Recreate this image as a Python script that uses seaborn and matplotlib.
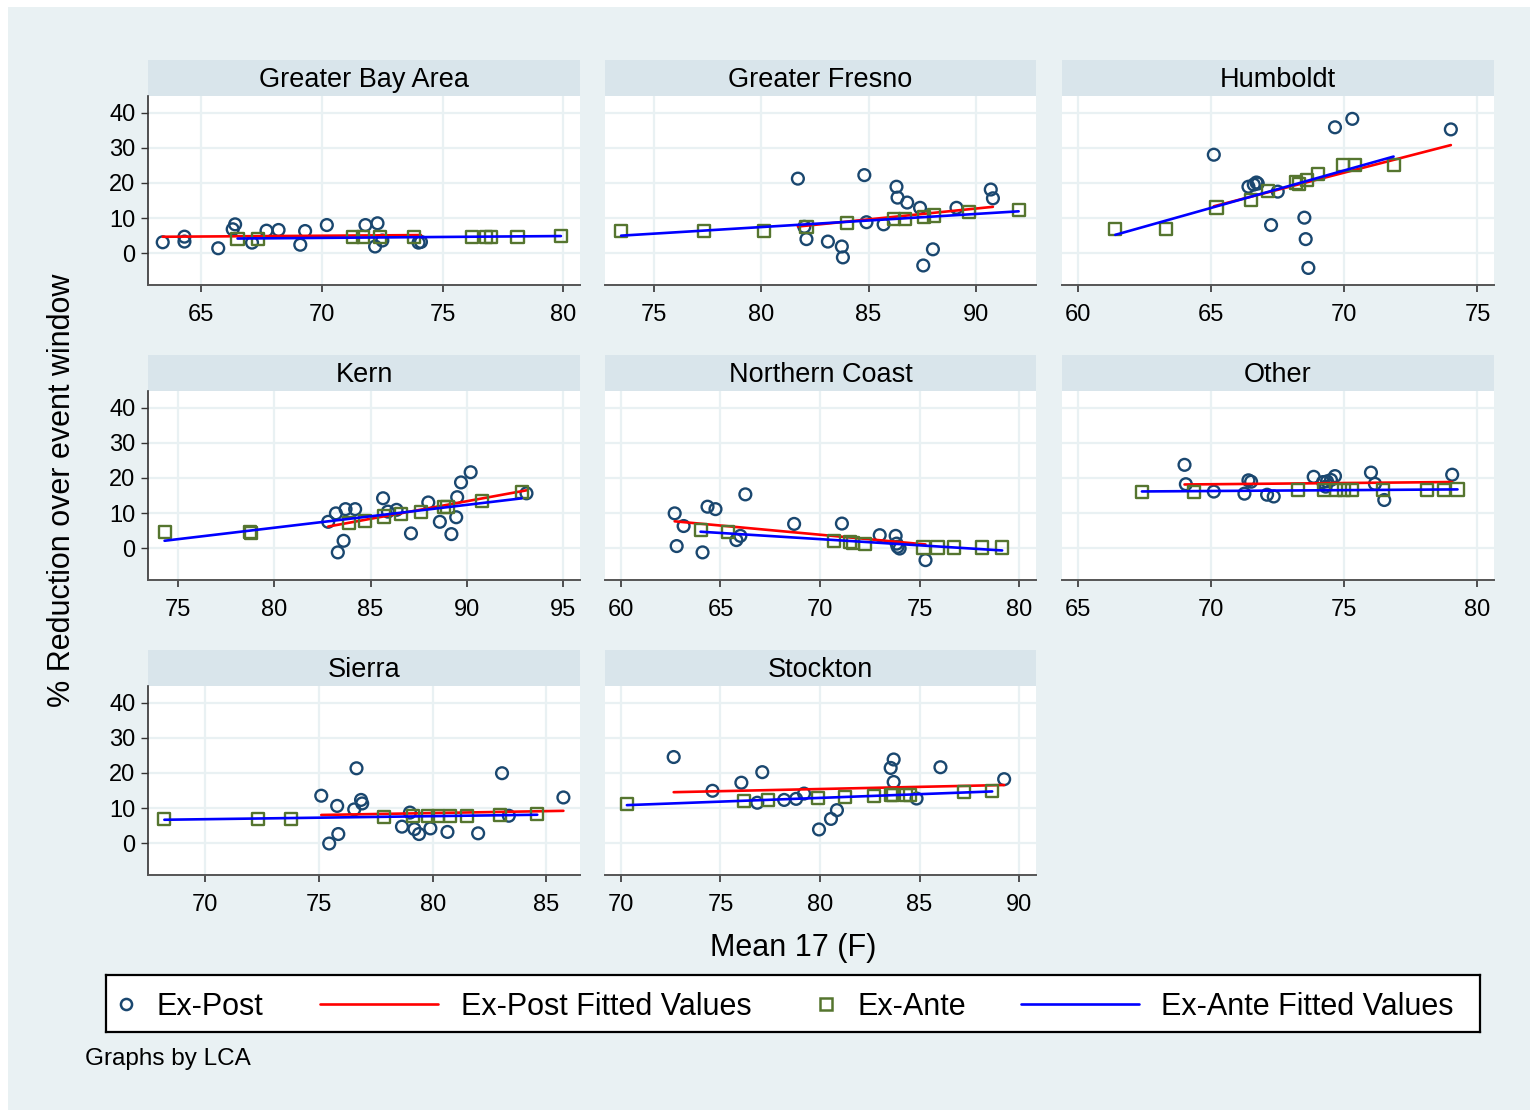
import numpy as np
import pandas as pd
import matplotlib
matplotlib.use("Agg")
import matplotlib.pyplot as plt
from matplotlib.patches import Rectangle
from matplotlib.ticker import MultipleLocator
import seaborn as sns

sns.set_theme(style="white")
plt.rcParams["font.family"] = ["Liberation Sans", "DejaVu Sans"]
plt.rcParams["text.color"] = "black"
plt.rcParams["xtick.color"] = "black"
plt.rcParams["ytick.color"] = "black"
plt.rcParams["axes.labelcolor"] = "black"

# ---------------------------------------------------------------- data
regions = ["Greater Bay Area", "Greater Fresno", "Humboldt", "Kern",
           "Northern Coast", "Other", "Sierra", "Stockton"]

bay_post_x = [63.4, 64.3, 64.3, 65.7, 66.3, 66.4, 67.1, 67.7, 68.2, 69.1, 69.3, 70.2, 71.8, 72.2, 72.3, 72.5, 74.0, 74.1]
bay_post_y = [3.1, 4.7, 3.3, 1.4, 6.8, 8.2, 3.0, 6.4, 6.6, 2.4, 6.3, 8.0, 8.0, 1.9, 8.5, 3.6, 3.0, 3.2]
bay_ante_x = [66.5, 67.35, 71.3, 71.7, 72.4, 73.8, 76.2, 76.8, 77.0, 78.1, 79.9]
bay_ante_y = [4.1, 4.1, 4.5, 4.5, 4.5, 4.7, 4.7, 4.7, 4.7, 4.7, 4.8]

fresno_post_x = [81.7, 82.0, 82.1, 83.1, 83.75, 83.8, 84.8, 84.9, 85.7, 86.3, 86.35, 86.8, 87.4, 87.55, 88.0, 89.1, 90.7, 90.8]
fresno_post_y = [21.2, 7.5, 4.0, 3.3, 1.9, -1.2, 22.2, 8.8, 8.2, 18.9, 15.8, 14.4, 12.9, -3.5, 1.1, 12.9, 18.1, 15.6]
fresno_ante_x = [73.45, 77.3, 80.1, 82.1, 84.0, 86.2, 86.7, 87.6, 88.05, 89.7, 92.0]
fresno_ante_y = [6.3, 6.3, 6.3, 7.5, 8.5, 9.7, 9.7, 10.4, 10.7, 11.6, 12.3]

humboldt_post_x = [65.1, 66.4, 66.6, 66.7, 66.75, 67.25, 67.5, 68.5, 68.55, 68.65, 69.65, 70.3, 74.0]
humboldt_post_y = [28.0, 18.9, 19.5, 20.1, 19.8, 8.0, 17.5, 10.1, 4.0, -4.2, 35.8, 38.2, 35.2]
humboldt_ante_x = [61.4, 63.3, 65.2, 66.5, 67.15, 68.2, 68.3, 68.6, 69.0, 69.95, 70.4, 71.85]
humboldt_ante_y = [6.9, 6.9, 13.0, 15.1, 17.6, 20.1, 19.8, 20.8, 22.4, 25.2, 25.2, 25.2]

kern_post_x = [82.8, 83.2, 83.3, 83.6, 83.7, 84.2, 85.65, 85.9, 86.35, 87.1, 88.0, 88.6, 89.2, 89.45, 89.5, 89.7, 90.2, 93.1]
kern_post_y = [7.5, 9.9, -1.2, 2.1, 11.1, 11.1, 14.2, 10.4, 10.9, 4.2, 13.0, 7.5, 4.0, 8.8, 14.5, 18.7, 21.6, 15.6]
kern_ante_x = [74.3, 78.75, 78.8, 83.9, 84.7, 85.7, 86.6, 87.6, 88.8, 89.0, 90.8, 92.85]
kern_ante_y = [4.5, 4.5, 4.3, 7.2, 7.7, 9.0, 9.6, 10.4, 11.6, 11.8, 13.4, 16.0]

coast_post_x = [62.7, 62.8, 63.15, 64.1, 64.35, 64.75, 65.8, 66.0, 66.25, 68.7, 71.1, 73.0, 73.8, 73.85, 73.9, 74.0, 75.3]
coast_post_y = [9.9, 0.6, 6.3, -1.2, 11.8, 11.1, 2.3, 3.5, 15.3, 6.9, 7.0, 3.7, 3.5, 1.3, 0.4, -0.1, -3.4]
coast_ante_x = [64.0, 65.4, 70.7, 71.5, 71.65, 72.25, 75.2, 75.9, 76.75, 78.15, 79.15]
coast_ante_y = [5.1, 4.7, 2.1, 1.8, 1.5, 1.3, 0.2, 0.2, 0.2, 0.2, 0.2]

other_post_x = [69.0, 69.05, 70.1, 71.25, 71.4, 71.5, 72.1, 72.35, 73.85, 74.2, 74.3, 74.35, 74.5, 74.65, 76.0, 76.15, 76.5, 79.05]
other_post_y = [23.7, 18.2, 16.1, 15.5, 19.3, 18.9, 15.2, 14.7, 20.3, 18.8, 17.5, 19.0, 19.4, 20.5, 21.5, 18.3, 13.7, 20.9]
other_ante_x = [67.4, 69.35, 73.25, 74.25, 74.7, 75.0, 75.3, 76.45, 78.1, 78.75, 79.25]
other_ante_y = [16.1, 16.1, 16.6, 16.6, 16.5, 16.5, 16.5, 16.6, 16.6, 16.6, 16.7]

sierra_post_x = [75.1, 75.45, 75.8, 75.85, 76.55, 76.65, 76.85, 76.9, 78.65, 79.0, 79.2, 79.4, 79.9, 80.65, 82.0, 83.05, 83.35, 85.75]
sierra_post_y = [13.5, -0.1, 10.6, 2.6, 9.6, 21.3, 12.3, 11.3, 4.7, 8.7, 4.0, 2.6, 4.2, 3.2, 2.8, 19.9, 7.8, 13.0]
sierra_ante_x = [68.2, 72.3, 73.75, 77.85, 79.15, 79.8, 80.25, 80.75, 81.5, 82.95, 84.6]
sierra_ante_y = [6.9, 6.9, 6.9, 7.5, 7.7, 7.7, 7.7, 7.7, 7.7, 8.0, 8.2]

stockton_post_x = [72.65, 74.6, 76.05, 76.85, 77.1, 78.2, 78.8, 79.2, 79.95, 80.55, 80.85, 83.55, 83.7, 83.7, 84.85, 86.05, 89.25]
stockton_post_y = [24.5, 14.9, 17.2, 11.5, 20.2, 12.3, 12.6, 14.1, 3.9, 6.9, 9.4, 21.4, 23.8, 17.4, 12.7, 21.6, 18.2]
stockton_ante_x = [70.3, 76.2, 77.4, 79.9, 81.25, 82.7, 83.55, 83.65, 84.3, 84.5, 87.25, 88.65]
stockton_ante_y = [11.1, 11.9, 12.2, 12.8, 13.1, 13.5, 13.6, 13.6, 13.7, 13.7, 14.6, 14.9]

post_x = [bay_post_x, fresno_post_x, humboldt_post_x, kern_post_x,
          coast_post_x, other_post_x, sierra_post_x, stockton_post_x]
post_y = [bay_post_y, fresno_post_y, humboldt_post_y, kern_post_y,
          coast_post_y, other_post_y, sierra_post_y, stockton_post_y]
ante_x = [bay_ante_x, fresno_ante_x, humboldt_ante_x, kern_ante_x,
          coast_ante_x, other_ante_x, sierra_ante_x, stockton_ante_x]
ante_y = [bay_ante_y, fresno_ante_y, humboldt_ante_y, kern_ante_y,
          coast_ante_y, other_ante_y, sierra_ante_y, stockton_ante_y]

# per-panel x ranges
x_ranges = [(62.79, 80.69), (72.70, 92.81), (59.40, 75.62), (73.44, 95.88),
            (59.20, 80.85), (64.40, 80.62), (67.48, 86.48), (69.20, 90.85)]
y_range = (-9.05, 44.7)
y_ticks = [0, 10, 20, 30, 40]

frames = []
for reg, px, py, ax_, ay_ in zip(regions, post_x, post_y, ante_x, ante_y):
    frames.append(pd.DataFrame({"LCA": reg, "temp": px, "reduction": py, "kind": "Ex-Post"}))
    frames.append(pd.DataFrame({"LCA": reg, "temp": ax_, "reduction": ay_, "kind": "Ex-Ante"}))
df = pd.concat(frames, ignore_index=True)

# ---------------------------------------------------------------- style
BG = "#E9F1F3"
STRIP = "#D9E5EB"
NAVY = "#1A476F"
GREEN = "#55752F"

W, H = 1536, 1112
fig = plt.figure(figsize=(W / 100, H / 100), dpi=100, facecolor="white")
fig.add_artist(Rectangle((8 / W, 1 - 1110 / H), (1530 - 8) / W, (1110 - 7) / H,
                         transform=fig.transFigure, facecolor=BG,
                         edgecolor="none", zorder=-10))


def px_axes(left, top, right, bottom):
    return fig.add_axes([left / W, 1 - bottom / H, (right - left) / W, (bottom - top) / H])


cols = [(148, 580), (605, 1036), (1062, 1494)]
rows = [(96, 285), (391, 580), (686, 875)]
strip_h = 36

for i, reg in enumerate(regions):
    r, c = divmod(i, 3)
    (l, rr), (t, b) = cols[c], rows[r]
    ax = px_axes(l, t, rr, b)
    ax.set_facecolor("white")
    ax.set_axisbelow(True)
    sub = df[df["LCA"] == reg]
    post = sub[sub["kind"] == "Ex-Post"]
    ante = sub[sub["kind"] == "Ex-Ante"]

    sns.scatterplot(data=post, x="temp", y="reduction", ax=ax, marker="o", s=72,
                    facecolors="none", edgecolor=NAVY, linewidth=1.7, zorder=3)
    sns.regplot(data=post, x="temp", y="reduction", ax=ax, scatter=False, ci=None,
                color="red", line_kws={"lw": 1.9, "zorder": 4})
    sns.scatterplot(data=ante, x="temp", y="reduction", ax=ax, marker="s", s=76,
                    facecolors="none", edgecolor=GREEN, linewidth=1.7, zorder=5)
    sns.regplot(data=ante, x="temp", y="reduction", ax=ax, scatter=False, ci=None,
                color="blue", line_kws={"lw": 1.9, "zorder": 6})

    ax.set_xlim(*x_ranges[i])
    ax.set_ylim(*y_range)
    ax.xaxis.set_major_locator(MultipleLocator(5))
    ax.set_yticks(y_ticks)
    ax.set_xlabel("")
    ax.set_ylabel("")
    ax.grid(True, color=BG, lw=1.6)

    for s in ("top", "right"):
        ax.spines[s].set_visible(False)
    ax.spines["bottom"].set_color("#555555")
    ax.spines["bottom"].set_linewidth(1.4)
    if c == 0:
        ax.spines["left"].set_color("#333333")
        ax.spines["left"].set_linewidth(1.2)
        ax.tick_params(axis="y", direction="out", length=5, width=1, color="#333333",
                       labelsize=17, pad=4, left=True, labelcolor="black")
    else:
        ax.spines["left"].set_visible(False)
        ax.tick_params(axis="y", left=False, labelleft=False)
    ax.tick_params(axis="x", direction="out", length=5, width=1.2, color="#333333",
                   labelsize=17, pad=9, bottom=True, labelcolor="black")

    # panel header strip
    frac = strip_h / (b - t)
    ax.add_patch(Rectangle((0, 1), 1, frac, transform=ax.transAxes, clip_on=False,
                           facecolor=STRIP, edgecolor="none"))
    ax.text(0.5, 1 + frac / 2 - 0.01, reg, transform=ax.transAxes, ha="center",
            va="center", fontsize=19.5, color="black")

fig.text(62 / W, 1 - 490 / H, "% Reduction over event window", rotation=90,
         ha="center", va="center", fontsize=22, color="black")
fig.text(793 / W, 1 - 948 / H, "Mean 17 (F)", ha="center", va="center",
         fontsize=22, color="black")

# legend box
lax = px_axes(106, 975, 1480, 1032)
lax.set_facecolor("white")
lax.set_xlim(0, 1)
lax.set_ylim(0, 1)
lax.set_xticks([])
lax.set_yticks([])
for s in lax.spines.values():
    s.set_color("black")
    s.set_linewidth(1.6)
ty = 0.44
lax.plot([0.0146], [0.5], marker="o", ms=8, mfc="none", mec=NAVY, mew=1.8, ls="none")
lax.text(0.0371, ty, "Ex-Post", va="center", fontsize=22, color="black")
lax.plot([0.1557, 0.2416], [0.5, 0.5], color="red", lw=1.9)
lax.text(0.2584, ty, "Ex-Post Fitted Values", va="center", fontsize=22, color="black")
lax.plot([0.524], [0.5], marker="s", ms=8, mfc="none", mec=GREEN, mew=1.8, ls="none")
lax.text(0.5466, ty, "Ex-Ante", va="center", fontsize=22, color="black")
lax.plot([0.666, 0.7518], [0.5, 0.5], color="blue", lw=1.9)
lax.text(0.7678, ty, "Ex-Ante Fitted Values", va="center", fontsize=22, color="black")

fig.text(85 / W, 1 - 1059 / H, "Graphs by LCA", ha="left", va="center",
         fontsize=17.5, color="black")

fig.savefig("out.png", dpi=100)
